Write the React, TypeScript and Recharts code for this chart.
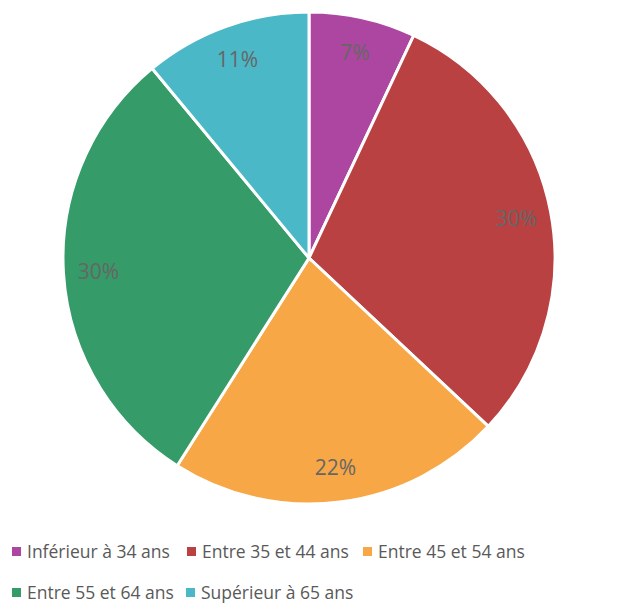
import React from "react";
import { PieChart, Pie, Cell, Legend } from "recharts";

const categories = [
  "Inférieur à 34 ans",
  "Entre 35 et 44 ans",
  "Entre 45 et 54 ans",
  "Entre 55 et 64 ans",
  "Supérieur à 65 ans",
];
const values = [7, 30, 22, 30, 11];
const colors = ["#AC46A1", "#B94141", "#F7A746", "#359B69", "#4BB8C8"];

const data = categories.map((name, i) => ({ name, value: values[i] }));

const RAD = Math.PI / 180;
const FONT = "'Open Sans', 'Noto Sans', sans-serif";

const renderLabel = (props: any) => {
  const { cx, cy, midAngle, value } = props;
  const r = 211;
  const x = cx + r * Math.cos(-midAngle * RAD);
  const y = cy + r * Math.sin(-midAngle * RAD);
  return (
    <text
      x={x}
      y={y}
      fill="#666666"
      fontSize={21}
      fontFamily={FONT}
      textAnchor="middle"
      dominantBaseline="central"
    >
      {value}%
    </text>
  );
};

const legendPos = [
  { left: 4, top: 0 },
  { left: 179, top: 0 },
  { left: 355, top: 0 },
  { left: 4, top: 41 },
  { left: 178, top: 41 },
];

const renderLegend = () => (
  <div style={{ position: "relative", width: 614, height: 62 }}>
    {categories.map((c, i) => (
      <div
        key={c}
        style={{
          position: "absolute",
          left: legendPos[i].left,
          top: legendPos[i].top,
          display: "flex",
          alignItems: "center",
          fontFamily: FONT,
          fontSize: 17.5,
          color: "#595959",
          whiteSpace: "nowrap",
          lineHeight: "20px",
        }}
      >
        <span
          style={{
            display: "inline-block",
            width: 9,
            height: 9,
            background: colors[i],
            marginRight: 6,
          }}
        />
        {c}
      </div>
    ))}
  </div>
);

export default function App() {
  return (
    <PieChart width={614} height={597} margin={{ top: 0, right: 0, bottom: 0, left: 0 }}>
      <Pie
        data={data}
        dataKey="value"
        nameKey="name"
        cx={301}
        cy={250}
        outerRadius={246}
        startAngle={90}
        endAngle={-270}
        stroke="#ffffff"
        strokeWidth={3}
        label={renderLabel}
        labelLine={false}
        isAnimationActive={false}
      >
        {data.map((d, i) => (
          <Cell key={d.name} fill={colors[i]} />
        ))}
      </Pie>
      <Legend
        content={renderLegend}
        wrapperStyle={{ position: "absolute", left: 0, top: 533, width: 614 }}
      />
    </PieChart>
  );
}
